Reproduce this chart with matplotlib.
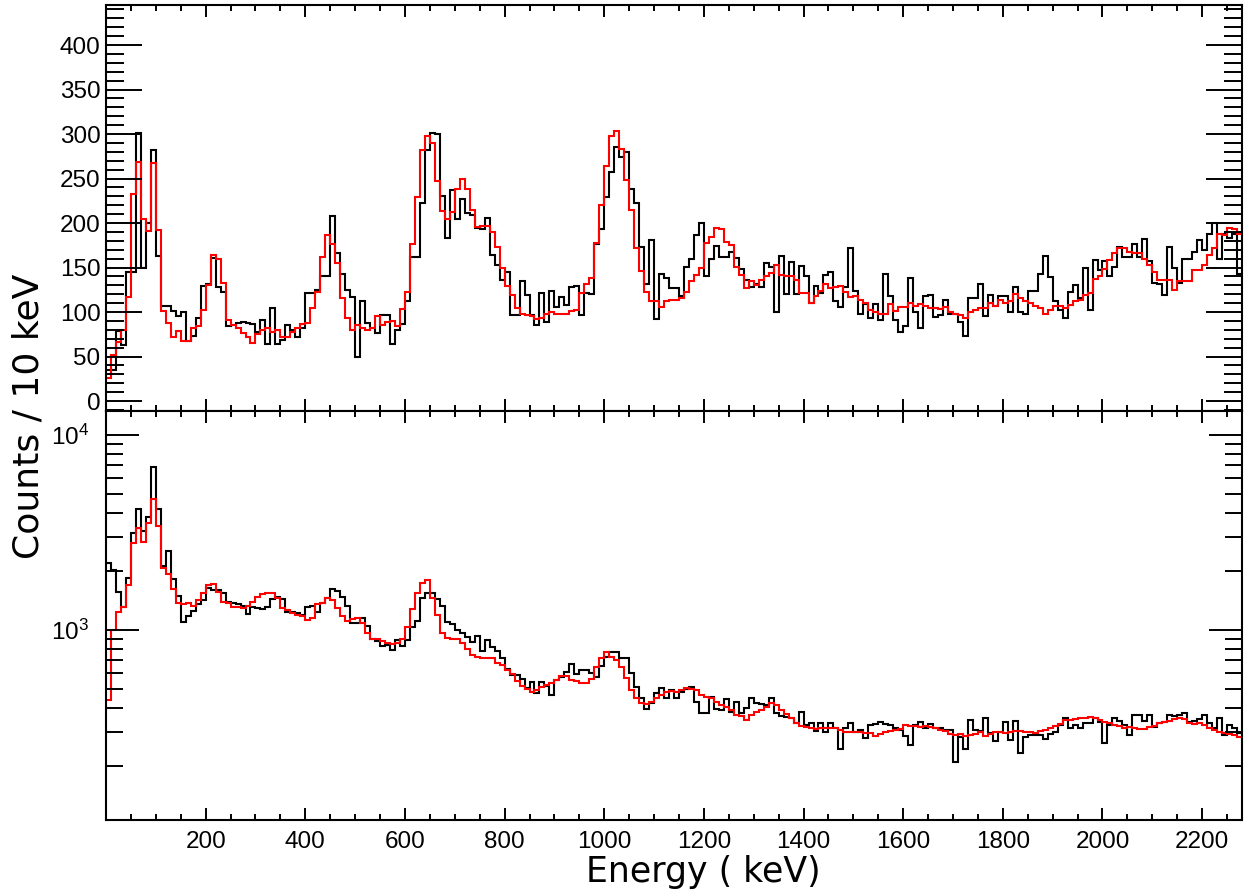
import numpy as np
import matplotlib
matplotlib.use("Agg")
import matplotlib.pyplot as plt
from matplotlib.ticker import MultipleLocator, LogLocator, NullFormatter, FixedLocator

plt.rcParams['font.family'] = ['Liberation Sans', 'DejaVu Sans']
plt.rcParams['mathtext.fontset'] = 'custom'
plt.rcParams['mathtext.rm'] = 'Liberation Sans'
plt.rcParams['mathtext.it'] = 'Liberation Sans:italic'
plt.rcParams['mathtext.bf'] = 'Liberation Sans:bold'

# 10 keV bins from 0 to 2280 keV
bin_edges = np.arange(0, 2281, 10)

# linear panel: measured spectrum (black) and simulation (red)
lin_measured = [
    35, 35, 79, 63, 145, 145, 301, 150, 200, 282,
    163, 107, 107, 101, 95, 100, 67, 73, 93, 129,
    131, 161, 128, 123, 84, 85, 88, 89, 88, 87,
    78, 91, 64, 104, 64, 69, 85, 80, 72, 82,
    121, 121, 125, 140, 140, 208, 166, 143, 125, 117,
    50, 112, 88, 82, 77, 97, 97, 64, 80, 87,
    112, 162, 162, 223, 282, 301, 300, 230, 183, 237,
    205, 227, 211, 209, 194, 193, 206, 164, 153, 136,
    145, 97, 97, 135, 119, 97, 85, 121, 89, 124,
    106, 117, 108, 128, 129, 97, 121, 120, 177, 193,
    229, 257, 286, 274, 280, 238, 223, 173, 131, 181,
    92, 143, 138, 127, 127, 118, 151, 160, 187, 200,
    140, 160, 174, 162, 162, 167, 161, 148, 136, 128,
    132, 128, 155, 151, 100, 163, 120, 156, 120, 152,
    140, 110, 129, 121, 142, 145, 112, 106, 128, 172,
    124, 98, 109, 93, 109, 91, 143, 118, 91, 78,
    84, 138, 100, 82, 118, 119, 94, 97, 113, 98,
    98, 89, 73, 116, 116, 131, 95, 119, 107, 118,
    118, 100, 128, 100, 98, 124, 124, 143, 163, 139,
    112, 102, 93, 123, 130, 116, 149, 102, 158, 147,
    157, 140, 151, 173, 162, 162, 177, 162, 182, 157,
    133, 132, 119, 173, 149, 133, 160, 160, 167, 181,
    170, 188, 200, 160, 188, 183, 188, 143,
]

lin_simulated = [
    26, 52, 66, 80, 117, 233, 269, 204, 191, 267,
    192, 101, 88, 72, 79, 67, 68, 82, 84, 102,
    130, 164, 160, 133, 91, 85, 82, 77, 72, 65,
    75, 80, 82, 78, 80, 72, 72, 78, 82, 87,
    88, 104, 123, 162, 187, 177, 155, 116, 93, 80,
    85, 82, 80, 82, 95, 85, 89, 90, 84, 103,
    122, 177, 229, 282, 298, 290, 247, 214, 204, 212,
    238, 249, 238, 215, 195, 197, 197, 190, 173, 150,
    129, 119, 104, 98, 97, 95, 92, 93, 98, 100,
    98, 98, 98, 101, 102, 121, 132, 138, 178, 220,
    264, 298, 303, 283, 248, 215, 172, 146, 123, 112,
    112, 106, 112, 113, 114, 116, 123, 135, 142, 149,
    178, 184, 194, 193, 179, 175, 151, 142, 127, 135,
    130, 136, 140, 144, 153, 142, 140, 140, 136, 121,
    121, 110, 118, 124, 132, 127, 128, 129, 123, 117,
    118, 114, 110, 102, 100, 98, 98, 109, 101, 106,
    106, 110, 107, 109, 107, 105, 104, 103, 106, 100,
    98, 97, 93, 100, 102, 104, 105, 110, 107, 113,
    110, 112, 120, 116, 112, 110, 107, 104, 98, 102,
    107, 107, 104, 108, 112, 113, 119, 121, 137, 140,
    148, 158, 166, 172, 172, 168, 166, 166, 160, 153,
    145, 136, 136, 136, 125, 135, 135, 135, 147, 147,
    153, 164, 172, 188, 187, 194, 193, 188,
]

# logarithmic panel: measured spectrum (black) and simulation (red)
log_measured = [
    2215, 2031, 1560, 1317, 1841, 3157, 4188, 3219, 3811, 6880,
    4188, 2130, 2553, 1826, 1500, 1103, 1185, 1251, 1359, 1425,
    1636, 1603, 1603, 1553, 1397, 1381, 1359, 1327, 1208, 1307,
    1291, 1276, 1317, 1442, 1471, 1436, 1242, 1242, 1218, 1194,
    1307, 1327, 1242, 1381, 1453, 1617, 1591, 1483, 1327, 1090,
    1090, 1157, 1048, 896, 878, 828, 838, 790, 889, 828,
    889, 1040, 1117, 1453, 1542, 1542, 1442, 1327, 1103, 1073,
    1000, 961, 925, 868, 932, 783, 889, 815, 783, 716,
    628, 588, 588, 559, 502, 543, 477, 543, 516, 464,
    554, 572, 611, 670, 595, 623, 623, 604, 577, 654,
    724, 774, 774, 716, 716, 600, 512, 446, 392, 421,
    473, 506, 446, 492, 446, 483, 496, 508, 429, 374,
    377, 455, 392, 389, 441, 381, 429, 377, 397, 450,
    421, 417, 412, 446, 374, 362, 357, 353, 332, 378,
    326, 335, 303, 332, 301, 332, 316, 244, 313, 335,
    299, 307, 280, 326, 329, 339, 329, 326, 316, 307,
    286, 257, 326, 339, 313, 329, 313, 313, 307, 307,
    211, 284, 244, 346, 307, 303, 353, 295, 268, 298,
    339, 273, 343, 233, 284, 290, 290, 290, 275, 293,
    301, 326, 353, 313, 326, 313, 335, 335, 353, 339,
    264, 326, 353, 343, 326, 290, 367, 367, 343, 367,
    319, 332, 339, 367, 360, 367, 374, 339, 343, 349,
    367, 335, 313, 353, 290, 326, 313, 295,
]

log_simulated = [
    438, 1000, 1232, 1307, 1702, 2806, 3348, 2839, 3551, 4677,
    3415, 2071, 1938, 1623, 1381, 1359, 1370, 1333, 1425, 1542,
    1702, 1722, 1573, 1397, 1381, 1317, 1317, 1291, 1327, 1397,
    1483, 1530, 1553, 1553, 1453, 1291, 1266, 1227, 1194, 1180,
    1126, 1148, 1354, 1381, 1465, 1425, 1291, 1180, 1117, 1134,
    1148, 1082, 961, 896, 896, 881, 854, 848, 861, 896,
    1040, 1276, 1553, 1734, 1804, 1453, 1200, 960, 906, 896,
    896, 854, 796, 744, 730, 721, 721, 716, 675, 662,
    623, 595, 550, 516, 496, 483, 492, 508, 522, 533,
    554, 581, 581, 554, 550, 537, 533, 559, 649, 716,
    768, 730, 702, 649, 565, 492, 446, 424, 416, 429,
    446, 464, 479, 488, 483, 492, 502, 496, 492, 464,
    455, 450, 429, 412, 401, 389, 367, 362, 346, 367,
    378, 389, 404, 421, 412, 389, 370, 353, 335, 322,
    319, 313, 310, 313, 313, 316, 313, 307, 301, 301,
    298, 298, 295, 295, 286, 292, 298, 303, 307, 311,
    326, 322, 322, 317, 322, 317, 313, 307, 303, 292,
    290, 292, 286, 290, 292, 298, 286, 292, 301, 301,
    295, 301, 305, 303, 301, 298, 295, 303, 307, 313,
    322, 328, 346, 346, 349, 353, 353, 357, 353, 346,
    339, 332, 326, 322, 313, 319, 313, 310, 310, 317,
    322, 332, 339, 343, 349, 353, 350, 332, 329, 332,
    326, 313, 307, 301, 295, 292, 290, 284,
]

x_major = np.arange(200, 2201, 200)

W, H = 1248, 892
fig = plt.figure(figsize=(W / 100, H / 100), dpi=100)
left, right = 106, 1242
ax_lin = fig.add_axes([left / W, 1 - 411 / H, (right - left) / W, (411 - 5) / H])
ax_log = fig.add_axes([left / W, 1 - 820 / H, (right - left) / W, (820 - 411) / H])

for ax, meas, sim in ((ax_lin, lin_measured, lin_simulated),
                      (ax_log, log_measured, log_simulated)):
    ax.stairs(meas, bin_edges, baseline=None, color='black', lw=1.5)
    ax.stairs(sim, bin_edges, baseline=None, color='#ff0000', lw=1.5)
    ax.set_xlim(0, 2280)
    ax.xaxis.set_major_locator(FixedLocator(x_major))
    ax.xaxis.set_minor_locator(MultipleLocator(50))
    ax.tick_params(which='both', direction='in', top=True, right=True,
                   width=1.4, labelsize=17.5, colors='black')
    ax.tick_params(axis='x', which='major', length=8.5)
    ax.tick_params(axis='x', which='minor', length=4.2)
    for sp in ax.spines.values():
        sp.set_linewidth(1.5)

# upper panel: linear scale
ax_lin.set_ylim(-11.2, 445)
ax_lin.yaxis.set_major_locator(MultipleLocator(50))
ax_lin.yaxis.set_minor_locator(MultipleLocator(10))
ax_lin.tick_params(axis='y', which='major', length=26, pad=4)
ax_lin.tick_params(axis='y', which='minor', length=13)
ax_lin.tick_params(axis='x', labelbottom=False)

# lower panel: logarithmic scale
ax_log.set_yscale('log')
ax_log.set_ylim(106, 13270)
ax_log.yaxis.set_major_locator(LogLocator(base=10))
ax_log.yaxis.set_minor_locator(LogLocator(base=10, subs=np.arange(2, 10)))
ax_log.yaxis.set_minor_formatter(NullFormatter())
ax_log.tick_params(axis='y', which='major', length=24, pad=12)
ax_log.tick_params(axis='y', which='minor', length=12)
ax_log.tick_params(axis='x', which='major', pad=8)

fig.text(29 / W, 1 - 416 / H, "Counts / 10 keV", rotation=90, ha='center', va='center',
         fontsize=26, family='DejaVu Sans')
fig.text(703 / W, 1 - 882 / H, "Energy ( keV)", ha='center', va='baseline',
         fontsize=25, family='DejaVu Sans')

fig.savefig("out.png", dpi=100, facecolor='white')
